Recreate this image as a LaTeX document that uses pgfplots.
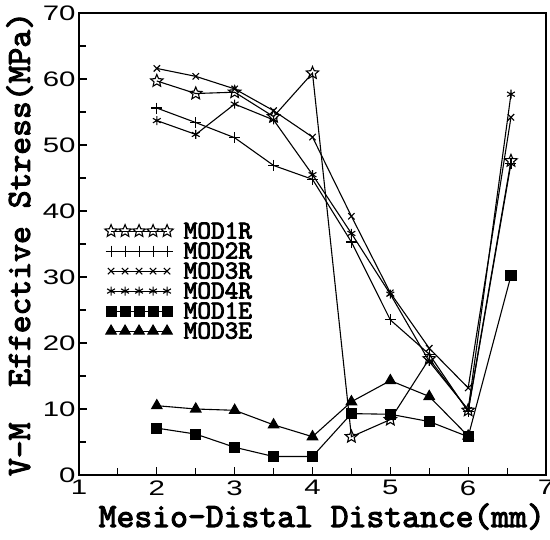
\documentclass[border=0pt]{standalone}
\usepackage{fontspec}
\usepackage{pgfplots}
\pgfplotsset{compat=1.18}
\newfontfamily\tickfont[FakeStretch=1.4]{Liberation Sans}
\newfontfamily\labfont{lmmono10-regular}[Extension=.otf, FakeBold=3]

% open five-pointed star
\pgfdeclareplotmark{ostar}{%
  \pgfpathmoveto{\pgfpointpolar{90}{\pgfplotmarksize}}%
  \pgfpathlineto{\pgfpointpolar{126}{0.45\pgfplotmarksize}}%
  \pgfpathlineto{\pgfpointpolar{162}{\pgfplotmarksize}}%
  \pgfpathlineto{\pgfpointpolar{198}{0.45\pgfplotmarksize}}%
  \pgfpathlineto{\pgfpointpolar{234}{\pgfplotmarksize}}%
  \pgfpathlineto{\pgfpointpolar{270}{0.45\pgfplotmarksize}}%
  \pgfpathlineto{\pgfpointpolar{306}{\pgfplotmarksize}}%
  \pgfpathlineto{\pgfpointpolar{342}{0.45\pgfplotmarksize}}%
  \pgfpathlineto{\pgfpointpolar{18}{\pgfplotmarksize}}%
  \pgfpathlineto{\pgfpointpolar{54}{0.45\pgfplotmarksize}}%
  \pgfpathclose
  \pgfusepathqstroke}

\begin{document}
\begin{tikzpicture}
\begin{axis}[
  at={(0,0)}, anchor=south west,
  width=467pt, height=462pt, scale only axis,
  xmin=1, xmax=7, ymin=0, ymax=70,
  xtick={1,...,7}, ytick={0,10,...,70},
  minor x tick num=1, minor y tick num=1,
  tick align=inside, tick pos=left,
  major tick length=8pt, minor tick length=7pt,
  axis line style={line width=1.4pt},
  tick style={line width=1.1pt, black},
  /pgf/number format/assume math mode=true,
  tick label style={font=\tickfont\fontsize{21}{21}\selectfont},
  xticklabel style={yshift=-2pt},
  xlabel={Mesio-Distal Distance(mm)},
  ylabel={V-M~~Effective Stress(MPa)},
  label style={font=\labfont\fontsize{34}{34}\selectfont},
  xlabel style={at={(axis description cs:0.52,0)}, anchor=base, yshift=-52pt},
  ylabel style={at={(axis description cs:-0.105,0.5)}, anchor=base},
  every axis plot/.append style={black, line width=1.1pt, mark options={solid, line width=1.1pt}},
  legend image code/.code={\draw[mark repeat=1,#1] plot coordinates {(0pt,0pt) (14pt,0pt) (28pt,0pt) (42pt,0pt) (56pt,0pt)};},
  legend cell align=left,
  legend style={at={(axis cs:1.33,38.5)}, anchor=north west, draw=none, fill=none,
    inner sep=0pt, row sep=0pt,
    /tikz/every odd column/.append style={column sep=8pt},
    nodes={inner sep=2.5pt, text height=15pt, text depth=0pt},
    font=\labfont\fontsize{26}{26}\selectfont},
]
\addplot[mark=ostar, mark size=6.5pt] coordinates {
  (2,59.7) (2.5,57.8) (3,58.0) (3.5,54.3) (4,60.9) (4.5,5.8) (5,8.4) (5.5,17.6) (6,9.8) (6.55,47.6)
};
\addplot[mark=+, mark size=5.5pt] coordinates {
  (2,55.6) (2.5,53.4) (3,51.1) (3.5,46.9) (4,44.8) (4.5,35.3) (5,23.5) (5.5,18.3) (6,9.6) (6.55,47.2)
};
\addplot[mark=x, mark size=4.5pt] coordinates {
  (2,61.6) (2.5,60.4) (3,58.5) (3.5,55.2) (4,51.2) (4.5,39.2) (5,27.6) (5.5,19.2) (6,13.2) (6.55,54.2)
};
\addplot[mark=asterisk, mark size=4.5pt] coordinates {
  (2,53.7) (2.5,51.6) (3,56.2) (3.5,53.8) (4,45.5) (4.5,36.6) (5,27.4) (5.5,17.2) (6,9.9) (6.55,57.7)
};
\addplot[mark=square*, mark size=5pt] coordinates {
  (2,7.1) (2.5,6.2) (3,4.2) (3.5,2.8) (4,2.8) (4.5,9.3) (5,9.2) (5.5,8.1) (6,5.8) (6.55,30.2)
};
\addplot[mark=triangle*, mark size=6pt] coordinates {
  (2,10.5) (2.5,10.0) (3,9.8) (3.5,7.6) (4,5.8) (4.5,11.1) (5,14.3) (5.5,11.9) (6,5.9)
};
\legend{MOD1R, MOD2R, MOD3R, MOD4R, MOD1E, MOD3E}
\end{axis}
\pgfresetboundingbox
\path (-79pt,-65pt) rectangle (471pt,475pt);
\end{tikzpicture}
\end{document}
